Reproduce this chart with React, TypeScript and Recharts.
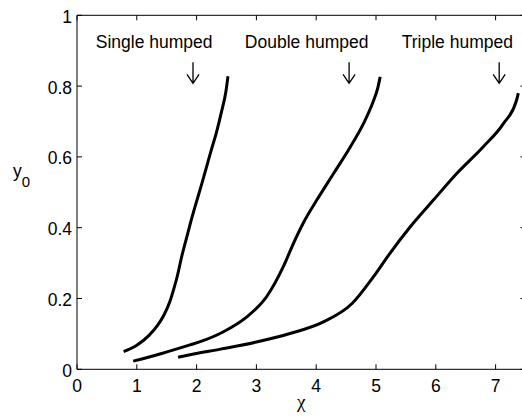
import React from 'react';
import { LineChart, Line, XAxis, YAxis, ReferenceDot, Label } from 'recharts';

const singleHumped = [
  { x: 0.78, y: 0.05 }, { x: 1.0, y: 0.068 }, { x: 1.2, y: 0.095 }, { x: 1.35, y: 0.125 },
  { x: 1.45, y: 0.152 }, { x: 1.55, y: 0.19 }, { x: 1.62, y: 0.228 }, { x: 1.68, y: 0.265 },
  { x: 1.75, y: 0.318 }, { x: 1.83, y: 0.37 }, { x: 1.9, y: 0.415 }, { x: 1.98, y: 0.463 },
  { x: 2.085, y: 0.523 }, { x: 2.17, y: 0.574 }, { x: 2.25, y: 0.622 }, { x: 2.33, y: 0.668 },
  { x: 2.42, y: 0.73 }, { x: 2.49, y: 0.785 }, { x: 2.525, y: 0.828 },
];

const doubleHumped = [
  { x: 0.94, y: 0.023 }, { x: 1.4, y: 0.044 }, { x: 1.89, y: 0.069 }, { x: 2.06, y: 0.078 },
  { x: 2.45, y: 0.106 }, { x: 2.84, y: 0.148 }, { x: 3.17, y: 0.205 }, { x: 3.45, y: 0.29 },
  { x: 3.62, y: 0.356 }, { x: 3.78, y: 0.412 }, { x: 4.01, y: 0.478 }, { x: 4.29, y: 0.553 },
  { x: 4.57, y: 0.628 }, { x: 4.79, y: 0.694 }, { x: 4.95, y: 0.755 }, { x: 5.03, y: 0.795 },
  { x: 5.07, y: 0.826 },
];

const tripleHumped = [
  { x: 1.69, y: 0.034 }, { x: 1.95, y: 0.043 }, { x: 2.4, y: 0.057 }, { x: 3.0, y: 0.077 },
  { x: 3.56, y: 0.101 }, { x: 4.12, y: 0.134 }, { x: 4.6, y: 0.186 }, { x: 4.955, y: 0.261 },
  { x: 5.23, y: 0.327 }, { x: 5.57, y: 0.402 }, { x: 5.96, y: 0.478 }, { x: 6.35, y: 0.553 },
  { x: 6.79, y: 0.628 }, { x: 7.13, y: 0.694 }, { x: 7.35, y: 0.76 }, { x: 7.38, y: 0.78 },
];

const xTicks = [0, 1, 2, 3, 4, 5, 6, 7];
const yTicks = [0, 0.2, 0.4, 0.6, 0.8, 1];

const annotationLabels = ['Single humped', 'Double humped', 'Triple humped'];
const annotationLabelX = [1.29, 3.84, 6.36];
const annotationLabelY = [0.907, 0.907, 0.907];
const arrowX = [1.94, 4.55, 7.06];
const arrowTipY = [0.808, 0.808, 0.808];

const SANS = '"Liberation Sans", Arial, Helvetica, sans-serif';
const FS = 17.5;

const BottomTick = (props: any) => {
  const { x, y, payload } = props;
  return (
    <g>
      <line x1={x} y1={y} x2={x} y2={y - 5} stroke="#000" strokeWidth={1} />
      <text x={x} y={y + 23} textAnchor="middle" fontSize={FS} fontFamily={SANS} fill="#000">
        {payload.value}
      </text>
    </g>
  );
};

const TopTick = (props: any) => {
  const { x, y } = props;
  return <line x1={x} y1={y} x2={x} y2={y + 5} stroke="#000" strokeWidth={1} />;
};

const LeftTick = (props: any) => {
  const { x, y, payload } = props;
  return (
    <g>
      <line x1={x} y1={y} x2={x + 5} y2={y} stroke="#000" strokeWidth={1} />
      <text x={x - 5} y={y + 7.5} textAnchor="end" fontSize={FS} fontFamily={SANS} fill="#000">
        {String(payload.value)}
      </text>
    </g>
  );
};

const RightTick = (props: any) => {
  const { x, y } = props;
  return <line x1={x} y1={y} x2={x - 5} y2={y} stroke="#000" strokeWidth={1} />;
};

const XLabel = (props: any) => {
  const vb = props.viewBox || {};
  return (
    <text x={vb.x + vb.width / 2} y={vb.y + 39} textAnchor="middle" fontSize={19}
      fontFamily='"Liberation Serif", "Times New Roman", serif' fill="#000">
      χ
    </text>
  );
};

const YLabel = (props: any) => {
  const vb = props.viewBox || {};
  const cy = vb.y + vb.height / 2;
  return (
    <text x={13} y={cy - 15} fontSize={FS} fontFamily={SANS} fill="#000">
      y<tspan fontSize={15} dy={10}>0</tspan>
    </text>
  );
};

const makeTextShape = (text: string) => (props: any) => (
  <text x={props.cx} y={props.cy} textAnchor="middle" fontSize={FS} fontFamily={SANS} fill="#000">
    {text}
  </text>
);

const ArrowShape = (props: any) => {
  const { cx, cy } = props;
  return (
    <path
      d={`M${cx},${cy - 21} L${cx},${cy} M${cx - 6},${cy - 9} L${cx},${cy} L${cx + 6},${cy - 9}`}
      stroke="#000" strokeWidth={1.3} fill="none"
    />
  );
};

export default function App() {
  return (
    <div style={{ position: 'fixed', left: 0, top: 0, width: 522, height: 420, overflow: 'hidden', background: '#fff' }}>
      <LineChart width={535} height={420} margin={{ top: 10.3, right: 4.5, bottom: 10.7, left: 17 }}>
        <XAxis xAxisId={0} dataKey="x" type="number" domain={[0, 7.5]} ticks={xTicks} interval={0}
          height={40} tickSize={0} tickMargin={0} tick={<BottomTick />} tickLine={false}
          axisLine={{ stroke: '#000', strokeWidth: 1 }} allowDataOverflow>
          <Label content={<XLabel />} />
        </XAxis>
        <XAxis xAxisId="top" orientation="top" dataKey="x" type="number" domain={[0, 7.5]} ticks={xTicks}
          interval={0} height={5} tickSize={0} tickMargin={0} tick={<TopTick />} tickLine={false}
          axisLine={{ stroke: '#000', strokeWidth: 1 }} allowDataOverflow />
        <YAxis yAxisId={0} type="number" domain={[0, 1]} ticks={yTicks} interval={0} width={60}
          tickSize={0} tickMargin={0} tick={<LeftTick />} tickLine={false}
          axisLine={{ stroke: '#000', strokeWidth: 1 }} allowDataOverflow>
          <Label content={<YLabel />} />
        </YAxis>
        <YAxis yAxisId="right" orientation="right" type="number" domain={[0, 1]} ticks={yTicks} interval={0}
          width={5} tickSize={0} tickMargin={0} tick={<RightTick />} tickLine={false}
          axisLine={false} allowDataOverflow />
        <Line data={singleHumped} dataKey="y" type="monotone" stroke="#000" strokeWidth={3} dot={false} isAnimationActive={false} />
        <Line data={doubleHumped} dataKey="y" type="monotone" stroke="#000" strokeWidth={3} dot={false} isAnimationActive={false} />
        <Line data={tripleHumped} dataKey="y" type="monotone" stroke="#000" strokeWidth={3} dot={false} isAnimationActive={false} />
        {annotationLabels.map((t, i) => (
          <ReferenceDot key={'l' + i} x={annotationLabelX[i]} y={annotationLabelY[i]} r={0}
            shape={makeTextShape(t)} ifOverflow="visible" />
        ))}
        {arrowX.map((ax, i) => (
          <ReferenceDot key={'a' + i} x={ax} y={arrowTipY[i]} r={0} shape={ArrowShape} ifOverflow="visible" />
        ))}
      </LineChart>
    </div>
  );
}
